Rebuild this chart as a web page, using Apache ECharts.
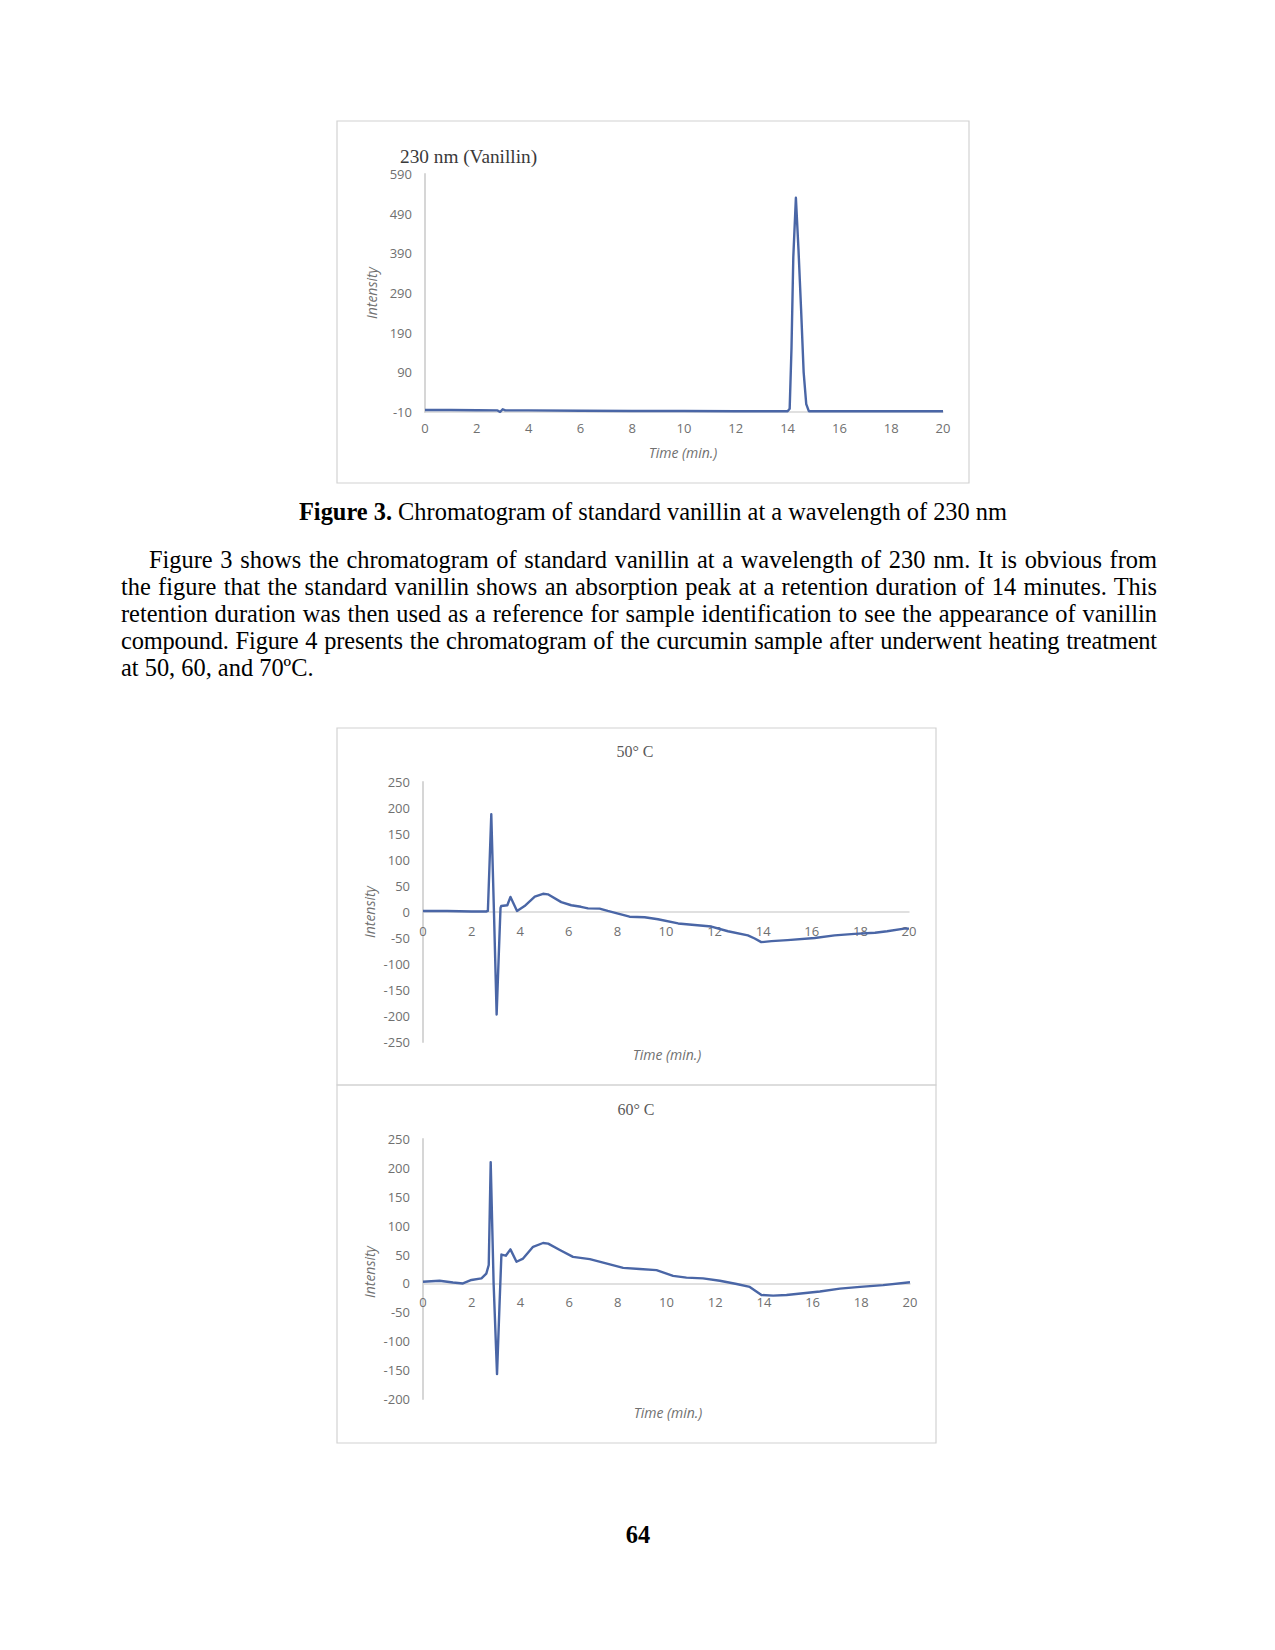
<!DOCTYPE html>
<html>
<head>
<meta charset="utf-8">
<script src="https://cdn.jsdelivr.net/npm/echarts@6/dist/echarts.min.js"></script>
<style>
  html, body { margin: 0; padding: 0; background: #fff; }
  #page { position: relative; width: 1275px; height: 1650px; overflow: hidden; }
  #chart { position: absolute; left: 0; top: 0; width: 1275px; height: 1650px; }
  .txt { position: absolute; font-family: "Liberation Serif", "Times New Roman", serif; font-size: 24.4px; color: #000; line-height: 27px; white-space: nowrap; }
  .jl { text-align: justify; text-align-last: justify; white-space: normal; }
</style>
</head>
<body>
<div id="page">
  <div id="chart"></div>
  <div class="txt" style="left:0; width:1306px; top:498px; text-align:center;"><b>Figure 3.</b> Chromatogram of standard vanillin at a wavelength of 230 nm</div>
  <div class="txt jl" style="left:149px; width:1008px; top:546px;">Figure 3 shows the chromatogram of standard vanillin at a wavelength of 230 nm. It is obvious from</div>
  <div class="txt jl" style="left:121px; width:1036px; top:573px;">the figure that the standard vanillin shows an absorption peak at a retention duration of 14 minutes. This</div>
  <div class="txt jl" style="left:121px; width:1036px; top:600px;">retention duration was then used as a reference for sample identification to see the appearance of vanillin</div>
  <div class="txt jl" style="left:121px; width:1036px; top:627px; word-spacing:-3px; letter-spacing:-0.15px;">compound. Figure 4 presents the chromatogram of the curcumin sample after underwent heating treatment</div>
  <div class="txt" style="left:121px; top:654px;">at 50, 60, and 70ºC.</div>
  <div class="txt" style="left:0; width:1276px; top:1521px; text-align:center;"><b>64</b></div>
</div>
<script>
// ---- Figure 3: standard vanillin, 230 nm ----
const vanillinTime = [0, 1, 2, 2.8, 2.9, 3.0, 3.1, 4, 6, 8, 10, 12, 13.9, 14.0, 14.08, 14.15, 14.22, 14.32, 14.42, 14.52, 14.62, 14.72, 14.82, 15, 16, 18, 20];
const vanillinIntensity = [-5, -5, -5.5, -6, -10, -3, -6, -6, -7, -7.5, -7.5, -8, -8, -8, -2, 150, 380, 530, 400, 250, 90, 10, -8, -8, -8, -8, -8];
const vanillinYTicks = { min: -10, max: 590, step: 100 };

// ---- Figure 4: 50 °C ----
const time50 = [0, 1, 2, 2.6, 2.67, 2.81, 2.92, 3.03, 3.12, 3.19, 3.22, 3.47, 3.6, 3.87, 4.18, 4.6, 4.94, 5.14, 5.69, 6.1, 6.5, 6.79, 7.27, 7.6, 8.03, 8.5, 9.12, 9.67, 10.5, 11.18, 11.87, 12.55, 13.37, 13.65, 13.92, 14.34, 15.0, 16.12, 16.94, 17.76, 18.6, 19.1, 19.8, 20];
const intensity50 = [2, 2, 1, 1, 2, 188, 0, -197, -80, 8, 11.5, 13, 29, 2, 11.5, 29.5, 35, 34, 19, 13, 10, 7, 6.4, 2, -3, -9, -10, -14, -22, -25, -28, -37, -45, -51, -58, -56, -54, -50, -45, -42, -40, -37, -32, -32];
const yTicks50 = { min: -250, max: 250, step: 50 };

// ---- Figure 4: 60 °C ----
const time60 = [0, 0.68, 1.23, 1.64, 1.99, 2.4, 2.6, 2.7, 2.78, 2.9, 3.04, 3.14, 3.22, 3.4, 3.59, 3.84, 4.11, 4.52, 4.93, 5.14, 5.62, 6.16, 6.85, 7.4, 8.22, 8.9, 9.59, 10.27, 10.82, 11.5, 12.19, 12.88, 13.42, 13.9, 14.38, 14.93, 16.3, 17.12, 17.95, 18.9, 20];
const intensity60 = [3, 4.6, 1.7, 0, 6, 8.7, 17, 32, 210, 0, -157, -40, 50, 48, 59, 37.5, 43, 63.5, 70, 69, 58, 46, 42, 36, 27, 25, 23, 13, 10, 8.7, 4.6, -1, -6, -20, -21, -20, -14, -9, -6, -3, 2];
const yTicks60 = { min: -200, max: 250, step: 50 };

const xTicks = { min: 0, max: 20, step: 2 };

const LINE = '#4a66a6';
const AXIS_GRAY = '#d6d6d6';
const LABEL_GRAY = '#707070';
const SANS = '"Open Sans", "Liberation Sans", sans-serif';
const SERIF = '"Liberation Serif", "Times New Roman", serif';

const grids = [
  { left: 425, top: 174, width: 518, height: 238 },
  { left: 423, top: 782, width: 486, height: 260 },
  { left: 423, top: 1139, width: 487, height: 260 }
];

function pairs(xs, ys) { return xs.map((x, i) => [x, ys[i]]); }

// x axis crossing the y axis at value 0 (Excel style): shift the axis up from the grid bottom
function zeroOffset(gridIdx, t) {
  return -grids[gridIdx].height * (0 - t.min) / (t.max - t.min);
}

function xAxisCfg(idx, offset, margin) {
  return {
    type: 'value', gridIndex: idx, min: xTicks.min, max: xTicks.max, interval: xTicks.step,
    position: 'bottom', offset: offset,
    axisLine: { show: true, onZero: false, lineStyle: { color: AXIS_GRAY, width: 1.5 } },
    axisTick: { show: false }, splitLine: { show: false },
    axisLabel: { color: LABEL_GRAY, fontFamily: SANS, fontSize: 13, margin: margin }
  };
}
function yAxisCfg(idx, t) {
  return {
    type: 'value', gridIndex: idx, min: t.min, max: t.max, interval: t.step,
    axisLine: { show: true, lineStyle: { color: AXIS_GRAY, width: 2 } },
    axisTick: { show: false }, splitLine: { show: false },
    axisLabel: { color: LABEL_GRAY, fontFamily: SANS, fontSize: 13, margin: 13 }
  };
}
function lineSeries(idx, xs, ys) {
  return {
    type: 'line', xAxisIndex: idx, yAxisIndex: idx, data: pairs(xs, ys),
    showSymbol: false, symbol: 'none', silent: true, animation: false,
    lineStyle: { color: LINE, width: 2.4, join: 'round' }
  };
}
function txt(x, y, text, style, rot) {
  return {
    type: 'text', x: x, y: y, rotation: rot || 0, silent: true,
    style: Object.assign({ text: text, align: 'center', verticalAlign: 'middle' }, style)
  };
}
function frame(x, y, w, h) {
  return { type: 'rect', shape: { x: x, y: y, width: w, height: h }, silent: true,
    style: { fill: 'none', stroke: '#d2d2d2', lineWidth: 1.2 } };
}

const chart = echarts.init(document.getElementById('chart'), null, { renderer: 'svg' });
const axisNameStyle = { fill: LABEL_GRAY, font: 'italic 14px ' + SANS };
chart.setOption({
  animation: false,
  grid: grids,
  xAxis: [
    xAxisCfg(0, 0, 9),
    xAxisCfg(1, zeroOffset(1, yTicks50), 12),
    xAxisCfg(2, zeroOffset(2, yTicks60), 12)
  ],
  yAxis: [yAxisCfg(0, vanillinYTicks), yAxisCfg(1, yTicks50), yAxisCfg(2, yTicks60)],
  series: [
    lineSeries(0, vanillinTime, vanillinIntensity),
    lineSeries(1, time50, intensity50),
    lineSeries(2, time60, intensity60)
  ],
  graphic: [
    frame(337, 121, 632, 362),
    frame(337, 728, 599, 357),
    frame(337, 1085, 599, 358),
    txt(400, 156, '230 nm (Vanillin)', { align: 'left', fill: '#3a3a3a', font: '19.3px ' + SERIF }),
    txt(683, 452, 'Time (min.)', axisNameStyle),
    txt(371, 293, 'Intensity', axisNameStyle, Math.PI / 2),
    txt(635, 751, '50° C', { fill: '#5a5a5a', font: '16px ' + SERIF }),
    txt(667, 1054, 'Time (min.)', axisNameStyle),
    txt(369, 912, 'Intensity', axisNameStyle, Math.PI / 2),
    txt(636, 1109, '60° C', { fill: '#5a5a5a', font: '16px ' + SERIF }),
    txt(668, 1412, 'Time (min.)', axisNameStyle),
    txt(369, 1272, 'Intensity', axisNameStyle, Math.PI / 2)
  ]
});
</script>
</body>
</html>
